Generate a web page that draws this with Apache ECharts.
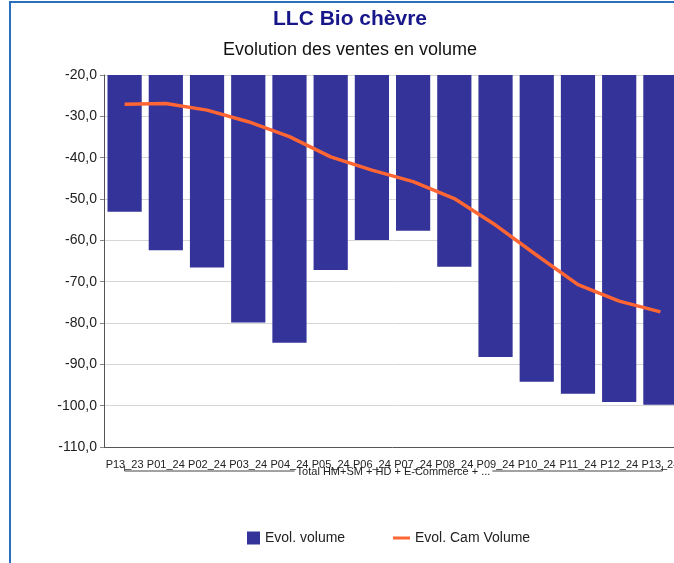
<!DOCTYPE html>
<html>
<head>
<meta charset="utf-8">
<script src="https://cdn.jsdelivr.net/npm/echarts@6/dist/echarts.min.js"></script>
<style>
  html, body { margin: 0; padding: 0; overflow: hidden; background: #fff; }
  .frame {
    position: absolute; left: 9px; top: 1px; width: 720px; height: 620px;
    border-left: 2px solid #2a6fbf; border-top: 2px solid #2a6fbf;
  }
  #chart { position: absolute; left: 0; top: 0; width: 700px; height: 563px; }
</style>
</head>
<body>
<div class="frame"></div>
<div id="chart"></div>
<script>
// periods
const categories = ["P13_23", "P01_24", "P02_24", "P03_24", "P04_24", "P05_24", "P06_24",
  "P07_24", "P08_24", "P09_24", "P10_24", "P11_24", "P12_24", "P13_24"];
// evol. volume (bars)
const evolVolume = [-53.1, -62.4, -66.6, -79.9, -84.8, -67.2, -59.9,
  -57.7, -66.4, -88.2, -94.2, -97.1, -99.1, -99.8];
// evol. cam volume (line)
const evolCamVolume = [-27.1, -26.9, -28.5, -31.3, -34.9, -39.8, -43.0,
  -45.8, -49.9, -56.3, -63.6, -70.7, -74.7, -77.3];
const groupLabel = "Total HM+SM + HD + E-Commerce + ...";
const yMin = -110, yMax = -20, yStep = 10;

const chart = echarts.init(document.getElementById("chart"));
const font = "Liberation Sans, Arial, sans-serif";

chart.setOption({
  animation: false,
  textStyle: { fontFamily: font },
  title: [
    {
      text: "LLC Bio chèvre",
      left: "center",
      top: 9,
      padding: 0,
      textStyle: { fontSize: 21, fontWeight: "bold", color: "#17178a", fontFamily: font }
    },
    {
      text: "Evolution des ventes en volume",
      left: "center",
      top: 41,
      padding: 0,
      textStyle: { fontSize: 18, fontWeight: "normal", color: "#111", fontFamily: font }
    }
  ],
  legend: [
    {
      data: [{ name: "Evol. volume", icon: "rect" }],
      left: 247,
      top: 531,
      padding: 0,
      itemWidth: 13,
      itemHeight: 13,
      itemGap: 8,
      textStyle: { fontSize: 14, color: "#222", fontFamily: font }
    },
    {
      data: [{ name: "Evol. Cam Volume", icon: "rect" }],
      left: 393,
      top: 531,
      padding: 0,
      itemWidth: 17,
      itemHeight: 3,
      textStyle: { fontSize: 14, color: "#222", fontFamily: font }
    }
  ],
  grid: { left: 104, top: 75, width: 577, height: 372, containLabel: false },
  xAxis: {
    type: "category",
    data: categories,
    boundaryGap: true,
    axisLine: { show: true, onZero: false, lineStyle: { color: "#555", width: 1 } },
    axisTick: { show: false },
    axisLabel: { interval: 0, fontSize: 11, color: "#222", margin: 12, fontFamily: font },
    splitLine: { show: false }
  },
  yAxis: {
    type: "value",
    min: yMin,
    max: yMax,
    interval: yStep,
    axisLine: { show: true, lineStyle: { color: "#555", width: 1 } },
    axisTick: { show: true, length: 4, lineStyle: { color: "#888" } },
    axisLabel: {
      fontSize: 14, color: "#222", margin: 7, fontFamily: font,
      formatter: v => v.toFixed(1).replace(".", ",")
    },
    splitLine: { lineStyle: { color: "#d6d6d6", width: 1 } }
  },
  series: [
    {
      name: "Evol. volume",
      type: "bar",
      data: evolVolume,
      barCategoryGap: "17%",
      clip: true,
      itemStyle: { color: "#333399" }
    },
    {
      name: "Evol. Cam Volume",
      type: "line",
      data: evolCamVolume,
      symbol: "none",
      smooth: false,
      lineStyle: { color: "#ff6633", width: 3.5 },
      itemStyle: { color: "#ff6633" }
    }
  ]
});

// bracket grouping all periods under the axis
const x0 = chart.convertToPixel({ xAxisIndex: 0 }, categories[0]);
const x1 = chart.convertToPixel({ xAxisIndex: 0 }, categories[categories.length - 1]) + 2;
const yb = chart.convertToPixel({ yAxisIndex: 0 }, yMin) + 24;
chart.setOption({
  graphic: [
    {
      type: "polyline",
      shape: { points: [[x0, yb - 5], [x0, yb], [x1, yb], [x1, yb - 5]] },
      style: { stroke: "#444", lineWidth: 1, fill: null }
    },
    {
      type: "text",
      x: (x0 + x1) / 2,
      y: yb + 1,
      style: {
        text: groupLabel, fontSize: 11, fill: "#222", fontFamily: font,
        align: "center", verticalAlign: "middle",
        backgroundColor: "#fff", padding: [0, 2]
      }
    }
  ]
});
</script>
</body>
</html>
